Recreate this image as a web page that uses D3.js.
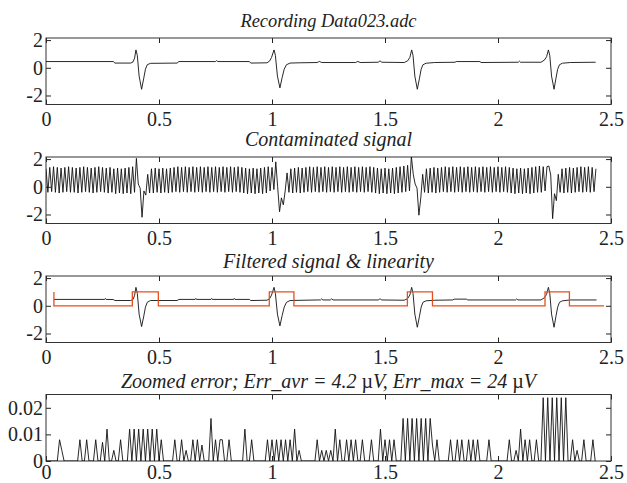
<!DOCTYPE html>
<html>
<head>
<meta charset="utf-8">
<script src="https://d3js.org/d3.v7.min.js"></script>
<style>
    body { margin: 0; background: #fff; }
    svg { display: block; font-family: "Liberation Serif", "Times New Roman", serif; }
    .title { font-style: italic; font-size: 20px; fill: #222; text-anchor: middle; }
    .title.first { font-size: 18.4px; }
    .axis text { font-family: "Liberation Serif", "Times New Roman", serif; font-size: 20px; fill: #222; }
    .axis line { stroke: #222; }
    .frame { fill: none; stroke: #333; stroke-width: 1; }
    .trace { fill: none; stroke: #111; stroke-width: 0.9; }
    .linearity { fill: none; stroke: #e5501e; stroke-width: 1.3; }
</style>
</head>
<body>
<div id="chart"></div>
<script>

var xDomain = [0, 2.5];
var xTicks = [0, 0.5, 1, 1.5, 2, 2.5];
var signalDomain = [-2.65, 2.15];
var signalTicks = [-2, 0, 2];
var errorDomain = [0, 0.025];
var errorTicks = [0, 0.01, 0.02];

var titles = [
    "Recording Data023.adc",
    "Contaminated signal",
    "Filtered signal & linearity",
    "Zoomed error; Err_avr = 4.2 µV, Err_max = 24 µV"
];

// recording: [time s, value]
var recording = [
    [0, 0.45], [0.298, 0.45], [0.305, 0.34], [0.375, 0.34], [0.385, 0.42], [0.392, 0.7],
    [0.398, 1.29], [0.404, 0.9], [0.412, -0.6], [0.423, -1.55], [0.432, -0.8], [0.44, -0.1],
    [0.448, 0.22], [0.462, 0.32], [0.58, 0.34], [0.588, 0.45], [0.75, 0.45], [0.755, 0.52],
    [0.76, 0.45], [0.9, 0.45], [0.906, 0.34], [0.978, 0.36], [0.99, 0.5], [0.998, 0.75],
    [1.009, 1.29], [1.015, 0.9], [1.024, -0.6], [1.035, -1.45], [1.045, -0.7], [1.054, -0.1],
    [1.064, 0.22], [1.08, 0.34], [1.12, 0.36], [1.2, 0.38], [1.21, 0.46], [1.22, 0.38],
    [1.37, 0.38], [1.38, 0.46], [1.39, 0.38], [1.47, 0.4], [1.478, 0.5], [1.486, 0.4],
    [1.585, 0.38], [1.6, 0.5], [1.61, 0.75], [1.618, 1.29], [1.624, 0.9], [1.632, -0.6],
    [1.643, -1.55], [1.652, -0.8], [1.66, -0.1], [1.668, 0.22], [1.682, 0.33], [1.72, 0.38],
    [1.81, 0.4], [1.815, 0.45], [1.92, 0.45], [1.925, 0.38], [2.09, 0.4], [2.095, 0.48],
    [2.1, 0.4], [2.19, 0.4], [2.205, 0.55], [2.215, 0.8], [2.223, 1.29], [2.229, 0.9],
    [2.237, -0.6], [2.248, -1.55], [2.256, -0.8], [2.264, -0.1], [2.272, 0.22], [2.285, 0.33],
    [2.32, 0.38], [2.432, 0.4]
];

// contaminated signal, one value every half period of the 60 Hz hum
var contStep = 1 / 120;
var contaminated = [
    1.3, -0.4, 1.4, -0.35, 1.45, -0.4, 1.4, -0.45, 1.35, -0.4,
    1.4, -0.35, 1.45, -0.4, 1.4, -0.4, 1.35, -0.45, 1.4, -0.4,
    1.45, -0.35, 1.4, -0.4, 1.35, -0.45, 1.4, -0.4, 1.45, -0.35,
    1.4, -0.4, 1.35, -0.45, 1.4, -0.4, 1.3, -0.5, 1.35, -0.45,
    1.3, -0.5, 1.35, -0.45, 1.4, -0.5, 1.45, -0.4,
    2.05, 0.2, -0.1, -2.2, -0.3, -0.6,
    0.9, -0.45, 1.3, -0.45, 1.35, -0.4, 1.3, -0.45, 1.35, -0.4,
    1.3, -0.45, 1.35, -0.4, 1.4, -0.35, 1.45, -0.4, 1.4, -0.35,
    1.45, -0.4, 1.4, -0.35, 1.45, -0.4, 1.4, -0.35, 1.45, -0.4,
    1.4, -0.35, 1.45, -0.4, 1.4, -0.35, 1.45, -0.4, 1.4, -0.35,
    1.45, -0.4, 1.4, -0.35, 1.45, -0.4, 1.4, -0.35, 1.45, -0.4,
    1.4, -0.45, 1.35, -0.5, 1.3, -0.45, 1.35, -0.5, 1.3, -0.45,
    1.35, -0.5, 1.4, -0.45, 1.45, -0.3, 1.4, -0.2,
    1.8, 0.0, -1.8, -0.8, -1.3, -0.3,
    1.0, -0.4, 1.3, -0.45, 1.35, -0.4, 1.4, -0.45, 1.35, -0.4,
    1.4, -0.35, 1.45, -0.4, 1.4, -0.35, 1.45, -0.4, 1.4, -0.35,
    1.45, -0.4, 1.4, -0.35, 1.45, -0.4, 1.4, -0.35, 1.45, -0.4,
    1.4, -0.35, 1.45, -0.4, 1.4, -0.35, 1.45, -0.4, 1.4, -0.35,
    1.45, -0.4, 1.4, -0.35, 1.45, -0.4, 1.4, -0.45, 1.35, -0.5,
    1.3, -0.45, 1.35, -0.5, 1.3, -0.45, 1.35, -0.5, 1.4, -0.45,
    1.45, -0.4, 1.5, -0.35, 1.55, -0.3,
    2.2, 0.9, 0.2, -0.1, -2.05, -0.8,
    0.9, -0.4, 1.3, -0.45, 1.35, -0.4, 1.4, -0.45, 1.35, -0.4,
    1.4, -0.35, 1.45, -0.4, 1.4, -0.35, 1.45, -0.4, 1.4, -0.35,
    1.45, -0.4, 1.4, -0.35, 1.45, -0.4, 1.4, -0.35, 1.45, -0.4,
    1.4, -0.35, 1.45, -0.4, 1.4, -0.35, 1.45, -0.4, 1.4, -0.35,
    1.45, -0.4, 1.4, -0.35, 1.45, -0.4, 1.4, -0.45, 1.35, -0.5,
    1.3, -0.45, 1.35, -0.5, 1.3, -0.45, 1.35, -0.5, 1.4, -0.45,
    1.45, -0.4, 1.5, -0.4, 1.45, -0.3,
    1.45, 1.5, 0.85, -2.3, -0.5, -1.0,
    0.9, -0.4, 1.3, -0.45, 1.35, -0.4, 1.4, -0.45, 1.35, -0.4,
    1.4, -0.35, 1.45, -0.4, 1.4, -0.35, 1.45, -0.4, 1.4, -0.35,
    1.3
];

// filtered signal: [time s, value]
var filtered = [
    [0.035, 0.46], [0.26, 0.46], [0.263, 0.53], [0.266, 0.46], [0.298, 0.45], [0.305, 0.38],
    [0.375, 0.38], [0.385, 0.45], [0.392, 0.75], [0.398, 1.33], [0.404, 0.9], [0.412, -0.6],
    [0.423, -1.5], [0.432, -0.8], [0.44, -0.1], [0.448, 0.25], [0.462, 0.38], [0.58, 0.38],
    [0.588, 0.46], [0.66, 0.46], [0.663, 0.53], [0.666, 0.46], [0.73, 0.46], [0.733, 0.53],
    [0.736, 0.46], [0.83, 0.46], [0.833, 0.53], [0.836, 0.46], [0.9, 0.46], [0.906, 0.38],
    [0.978, 0.4], [0.99, 0.52], [0.998, 0.78], [1.009, 1.33], [1.015, 0.9], [1.024, -0.6],
    [1.035, -1.45], [1.045, -0.7], [1.054, -0.1], [1.064, 0.25], [1.08, 0.38], [1.2, 0.42],
    [1.215, 0.42], [1.22, 0.5], [1.225, 0.42], [1.258, 0.42], [1.264, 0.5], [1.27, 0.42],
    [1.472, 0.42], [1.478, 0.52], [1.484, 0.42], [1.585, 0.4], [1.6, 0.52], [1.61, 0.78],
    [1.618, 1.33], [1.624, 0.9], [1.632, -0.6], [1.643, -1.55], [1.652, -0.8], [1.66, -0.1],
    [1.668, 0.25], [1.682, 0.36], [1.72, 0.4], [1.8, 0.42], [1.806, 0.48], [1.86, 0.48],
    [1.866, 0.42], [2.078, 0.42], [2.083, 0.5], [2.088, 0.42], [2.19, 0.42], [2.205, 0.58],
    [2.215, 0.82], [2.223, 1.33], [2.229, 0.9], [2.237, -0.6], [2.248, -1.55], [2.256, -0.8],
    [2.264, -0.1], [2.272, 0.25], [2.285, 0.36], [2.32, 0.42], [2.436, 0.42]
];

// linearity flag, drawn as steps
var linT = [0.035, 0.035, 0.382, 0.497, 0.988, 1.097, 1.599, 1.71, 2.208, 2.316, 2.469];
var linV = [1, 0, 1, 0, 1, 0, 1, 0, 1, 0, 0];

// zoomed error in thousandths, one value every 10 ms
var errStep = 0.01;
var errMilli = [
    0, 0, 0, 0, 0, 0, 8, 4, 0, 0,
    0, 0, 0, 0, 0, 8, 0, 0, 8, 0,
    0, 0, 8, 0, 0, 7, 0, 12, 0, 0,
    4, 0, 0, 8, 0, 0, 0, 12, 0, 12,
    0, 12, 0, 12, 0, 12, 0, 12, 0, 12,
    0, 8, 0, 0, 0, 0, 0, 8, 0, 0,
    8, 0, 4, 0, 0, 8, 0, 8, 0, 6,
    0, 0, 0, 16, 0, 8, 0, 8, 8, 0,
    0, 8, 0, 0, 0, 0, 0, 0, 12, 0,
    0, 8, 0, 0, 0, 0, 0, 0, 8, 0,
    8, 0, 8, 0, 8, 0, 8, 0, 8, 0,
    12, 0, 4, 0, 0, 0, 0, 0, 0, 0,
    8, 0, 4, 0, 4, 0, 4, 0, 12, 0,
    8, 0, 0, 8, 0, 8, 0, 8, 0, 0,
    8, 0, 0, 0, 8, 0, 0, 0, 12, 0,
    8, 0, 8, 0, 8, 0, 0, 0, 16, 0,
    16, 0, 16, 0, 16, 0, 16, 0, 16, 0,
    16, 6, 0, 8, 0, 0, 0, 0, 0, 8,
    0, 0, 8, 0, 8, 0, 0, 8, 0, 8,
    0, 8, 0, 0, 0, 0, 8, 0, 0, 0,
    0, 0, 0, 0, 0, 8, 0, 0, 4, 0,
    12, 0, 8, 0, 8, 0, 0, 8, 0, 0,
    23.8, 0, 23.8, 0, 23.8, 0, 23.8, 0, 23.8, 0,
    23.8, 0, 0, 8, 0, 4, 0, 0, 8, 0,
    0, 0, 8, 0
];

var plotLeft = 46, plotRight = 611, panelHeight = 66.5;
var panelTops = [38, 157, 276, 394.5];
var titleBaselines = [26.7, 145.5, 268.3, 388.3];
var xLabelPadding = [7, 7.5, 7.5, 3.5];

var svg = d3.select('#chart')
    .append('svg')
    .attr('width', 627)
    .attr('height', 483);

var x = d3.scaleLinear()
    .domain(xDomain)
    .range([plotLeft, plotRight]);

var tickText = function(d) { return String(d); };

function addPanel(index, yDomain, yTicks) {
    var top = panelTops[index], bottom = top + panelHeight;

    var y = d3.scaleLinear()
        .domain(yDomain)
        .range([bottom, top]);

    var g = svg.append('g').attr('class', 'panel');

    g.append('clipPath')
        .attr('id', 'clip' + index)
        .append('rect')
        .attr('x', plotLeft)
        .attr('y', top)
        .attr('width', plotRight - plotLeft)
        .attr('height', panelHeight);

    // ticks point inwards on all four sides, like a boxed MATLAB axis
    g.append('g')
        .attr('class', 'axis')
        .attr('transform', 'translate(0,' + bottom + ')')
        .call(d3.axisBottom(x).tickValues(xTicks).tickSizeInner(-5).tickSizeOuter(0)
            .tickPadding(xLabelPadding[index]).tickFormat(tickText));

    g.append('g')
        .attr('class', 'axis')
        .attr('transform', 'translate(0,' + top + ')')
        .call(d3.axisTop(x).tickValues(xTicks).tickSizeInner(-5).tickSizeOuter(0).tickFormat(''));

    g.append('g')
        .attr('class', 'axis')
        .attr('transform', 'translate(' + plotLeft + ',0)')
        .call(d3.axisLeft(y).tickValues(yTicks).tickSizeInner(-5).tickSizeOuter(0)
            .tickPadding(3).tickFormat(tickText));

    g.append('g')
        .attr('class', 'axis')
        .attr('transform', 'translate(' + plotRight + ',0)')
        .call(d3.axisRight(y).tickValues(yTicks).tickSizeInner(-5).tickSizeOuter(0).tickFormat(''));

    g.selectAll('.domain').remove();

    g.append('rect')
        .attr('class', 'frame')
        .attr('x', plotLeft)
        .attr('y', top)
        .attr('width', plotRight - plotLeft)
        .attr('height', panelHeight);

    // title, with the micro sign kept upright
    var title = g.append('text')
        .attr('class', index === 0 ? 'title first' : 'title')
        .attr('x', (plotLeft + plotRight) / 2)
        .attr('y', titleBaselines[index]);
    titles[index].split('µ').forEach(function(part, i) {
        if (i > 0) title.append('tspan').style('font-style', 'normal').text('µ');
        title.append('tspan').text(part);
    });

    var plot = g.append('g').attr('clip-path', 'url(#clip' + index + ')');

    return { y: y, plot: plot };
}

// panel 1: recording
var p1 = addPanel(0, signalDomain, signalTicks);
p1.plot.append('path')
    .attr('class', 'trace')
    .attr('d', d3.line()
        .x(function(d) { return x(d[0]); })
        .y(function(d) { return p1.y(d[1]); })(recording));

// panel 2: contaminated
var p2 = addPanel(1, signalDomain, signalTicks);
p2.plot.append('path')
    .attr('class', 'trace')
    .attr('d', d3.line()
        .x(function(d, i) { return x(i * contStep); })
        .y(function(d) { return p2.y(d); })(contaminated));

// panel 3: filtered + linearity
var p3 = addPanel(2, signalDomain, signalTicks);
p3.plot.append('path')
    .attr('class', 'trace')
    .attr('d', d3.line()
        .x(function(d) { return x(d[0]); })
        .y(function(d) { return p3.y(d[1]); })(filtered));
p3.plot.append('path')
    .attr('class', 'linearity')
    .attr('d', d3.line()
        .x(function(d, i) { return x(linT[i]); })
        .y(function(d) { return p3.y(d); })
        .curve(d3.curveStepAfter)(linV));

// panel 4: zoomed error
var p4 = addPanel(3, errorDomain, errorTicks);
p4.plot.append('path')
    .attr('class', 'trace')
    .attr('d', d3.line()
        .x(function(d, i) { return x(i * errStep); })
        .y(function(d) { return p4.y(d / 1000); })(errMilli));

</script>
</body>
</html>
